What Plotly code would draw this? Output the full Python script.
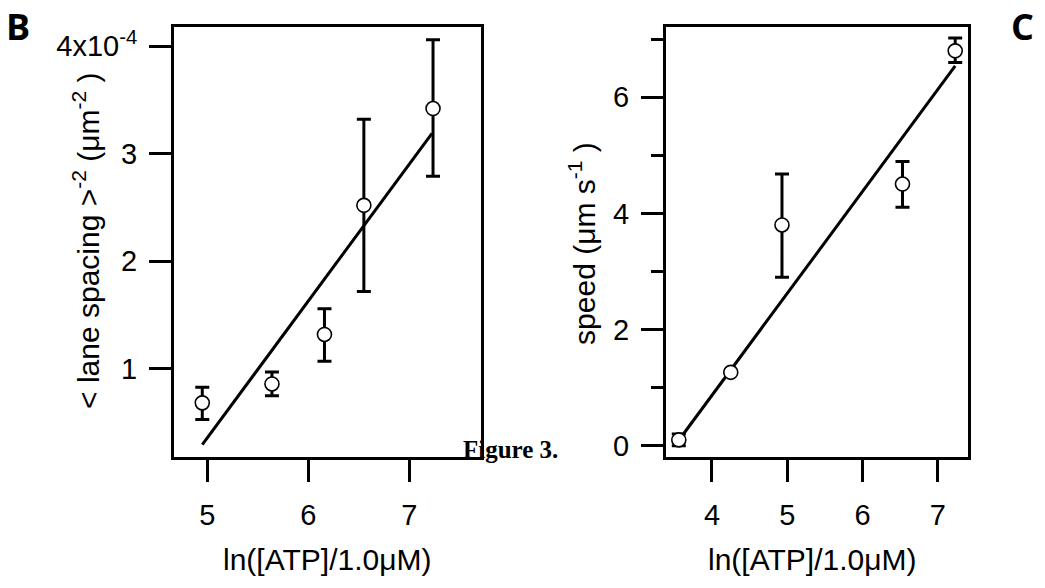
import plotly.graph_objects as go

# Panel B data (units of 1e-4 um^-2)
b_x = [4.95, 5.64, 6.16, 6.55, 7.235]
b_y = [0.684, 0.86, 1.32, 2.52, 3.42]
b_err_plus = [0.146, 0.11, 0.24, 0.80, 0.64]
b_err_minus = [0.154, 0.11, 0.25, 0.80, 0.63]
b_fit_x = [4.95, 7.225]
b_fit_y = [0.295, 3.19]
b_yticks = [1, 2, 3, 4]
b_yticktext = ["1", "2", "3", "4x10<sup>-4</sup>"]
b_xticks = [5, 6, 7]

# Panel C data (um s^-1)
c_x = [3.56, 4.25, 4.93, 6.53, 7.23]
c_y = [0.096, 1.26, 3.80, 4.505, 6.80]
c_err_plus = [0.1, 0.0, 0.88, 0.39, 0.22]
c_err_minus = [0.1, 0.0, 0.90, 0.40, 0.20]
c_fit_x = [3.56, 7.23]
c_fit_y = [0.09, 6.54]
c_yticks = [0, 2, 4, 6]
c_xticks = [4, 5, 6, 7]

W, H = 1045, 588
FONT = "Liberation Sans, Arial, sans-serif"

fig = go.Figure()

def add_panel(xs, ys, ep, em, fx, fy, xa, ya):
    fig.add_trace(go.Scatter(x=fx, y=fy, mode="lines", line=dict(color="black", width=3),
                             xaxis=xa, yaxis=ya, showlegend=False, hoverinfo="skip"))
    fig.add_trace(go.Scatter(x=xs, y=ys, mode="markers",
                             marker=dict(symbol="circle", size=14, color="white",
                                         line=dict(color="black", width=1.6)),
                             error_y=dict(type="data", symmetric=False, array=ep, arrayminus=em,
                                          color="black", thickness=3, width=7),
                             xaxis=xa, yaxis=ya, showlegend=False))

add_panel(b_x, b_y, b_err_plus, b_err_minus, b_fit_x, b_fit_y, "x", "y")
add_panel(c_x, c_y, c_err_plus, c_err_minus, c_fit_x, c_fit_y, "x2", "y2")

axis_common = dict(showline=True, linecolor="black", linewidth=3, mirror=True,
                   ticks="outside", ticklen=22, tickwidth=3, tickcolor="black",
                   showgrid=False, zeroline=False,
                   tickfont=dict(family=FONT, size=29, color="black"))

fig.update_layout(
    width=W, height=H,
    margin=dict(l=0, r=0, t=0, b=0),
    paper_bgcolor="white", plot_bgcolor="white",
    xaxis=dict(domain=[174 / W, 481 / W], range=[4.67, 7.71], tickvals=b_xticks,
               anchor="y", ticklabelstandoff=8, **axis_common),
    yaxis=dict(domain=[1 - 460 / H, 1 - 26 / H], range=[0.18, 4.18], tickvals=b_yticks,
               ticktext=b_yticktext, anchor="x", ticklabelstandoff=6, **axis_common),
    xaxis2=dict(domain=[666 / W, 968 / W], range=[3.39, 7.40], tickvals=c_xticks,
                anchor="y2", ticklabelstandoff=8, **axis_common),
    yaxis2=dict(domain=[1 - 460 / H, 1 - 26 / H], range=[-0.2, 7.215], tickvals=c_yticks,
                anchor="x2", ticklabelstandoff=6,
                minor=dict(dtick=1, tick0=0, ticks="outside", ticklen=12, tickwidth=3,
                           tickcolor="black", showgrid=False),
                **axis_common),
)

title_font = dict(family=FONT, size=30, color="black")
ann = [
    dict(text="ln([ATP]/1.0μM)", x=327 / W, y=1 - 563 / H, font=title_font),
    dict(text="ln([ATP]/1.0μM)", x=812 / W, y=1 - 563 / H, font=title_font),
    dict(text="< lane spacing ><sup>-2</sup> (μm<sup>-2</sup> )", x=86 / W, y=1 - 242 / H,
         textangle=-90, font=title_font),
    dict(text="speed (μm s<sup>-1</sup> )", x=582 / W, y=1 - 245 / H, textangle=-90,
         font=title_font),
    dict(text="<b>B</b>", x=18 / W, y=1 - 26 / H,
         font=dict(family="Open Sans, sans-serif", size=36, color="black")),
    dict(text="<b>C</b>", x=1022 / W, y=1 - 26 / H,
         font=dict(family="Open Sans, sans-serif", size=36, color="black")),
    dict(text="<b>Figure 3.</b>", x=510 / W, y=1 - 452 / H,
         font=dict(family="Liberation Serif, Times New Roman, serif", size=25, color="black")),
]
for a in ann:
    a.update(xref="paper", yref="paper", showarrow=False, xanchor="center", yanchor="middle")
fig.update_layout(annotations=ann)

fig.write_html("out.html")
